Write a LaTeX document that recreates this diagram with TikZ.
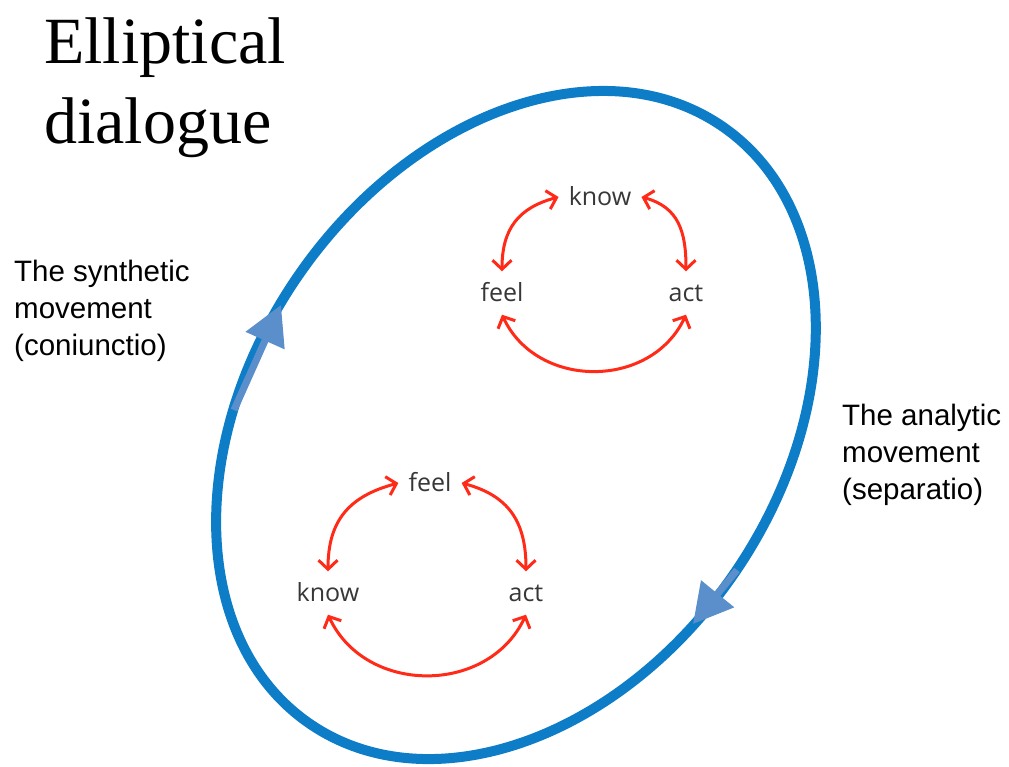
\documentclass[tikz,border=0pt]{standalone}
\usepackage{fontspec}
\setmainfont{Liberation Serif}
\newfontfamily\labelfont{Liberation Sans}
\newfontfamily\wordfont{Open Sans}
\usepackage{xcolor}
\usepackage{tikz}
\usetikzlibrary{positioning}
\usetikzlibrary{arrows, arrows.meta}

\definecolor{ringblue}{RGB}{14,125,200}
\definecolor{tipblue}{RGB}{90,143,203}
\definecolor{arcred}{RGB}{255,42,23}
\definecolor{wordgray}{RGB}{55,55,55}

\tikzset{
  word/.style={font=\wordfont\fontsize{25}{25}\selectfont, text=wordgray,
    inner xsep=10pt, inner ysep=12pt, text height=18pt, text depth=1pt},
  redarc/.style={draw=arcred, line width=3pt, looseness=1.15,
    {Straight Barb[length=9pt,width=19pt]}-{Straight Barb[length=9pt,width=19pt]}},
  movement/.style={font=\labelfont\fontsize{29.5}{37}\selectfont, align=left,
    anchor=north west, inner sep=0pt},
  blueflow/.style={tipblue, line width=7pt, -{Triangle[length=39pt,width=41pt]}}
}

\begin{document}
\begin{tikzpicture}[x=1pt,y=1pt]
  \useasboundingbox (0,0) rectangle (1009,-767);
  \def\tilt{55.2}
  \def\major{363}
  \def\minor{264}

  \coordinate (mid) at (516,-425);
  \draw[ringblue, line width=10pt, rotate around={\tilt:(mid)}]
    (mid) ellipse[x radius=\major, y radius=\minor];

  \node[font=\fontsize{66}{80}\selectfont, align=left, anchor=north west, inner sep=0pt]
    (title) at (44,-18) {Elliptical\\dialogue};

  \node[movement] (synthetic) at (14,-260) {The synthetic\\movement\\(coniunctio)};
  \node[movement] (analytic) at (842,-404) {The analytic\\movement\\(separatio)};

  % flow on the ring
  \coordinate (up_tail) at (234,-410);
  \coordinate (up_tip) at (281,-305);
  \draw[blueflow] (up_tail) -- (up_tip);
  \coordinate (down_tail) at (737,-570);
  \coordinate (down_tip) at (693,-624);
  \draw[blueflow] (down_tail) -- (down_tip);

  % upper cycle
  \node[word] (know1) at (600,-197) {know};
  \node[word] (feel1) at (502,-293) {feel};
  \node[word] (act1) at (686,-293) {act};
  \draw[redarc] (know1.west) to[out=195, in=90] (feel1.north);
  \draw[redarc] (know1.east) to[out=-15, in=90] (act1.north);
  \draw[redarc] (feel1.south) to[out=-65, in=-115] (act1.south);

  % lower cycle
  \node[word] (feel2) at (430,-483) {feel};
  \node[word] (know2) at (328,-593) {know};
  \node[word] (act2) at (526,-593) {act};
  \draw[redarc] (feel2.west) to[out=195, in=90] (know2.north);
  \draw[redarc] (feel2.east) to[out=-15, in=90] (act2.north);
  \draw[redarc] (know2.south) to[out=-65, in=-115] (act2.south);
\end{tikzpicture}
\end{document}
